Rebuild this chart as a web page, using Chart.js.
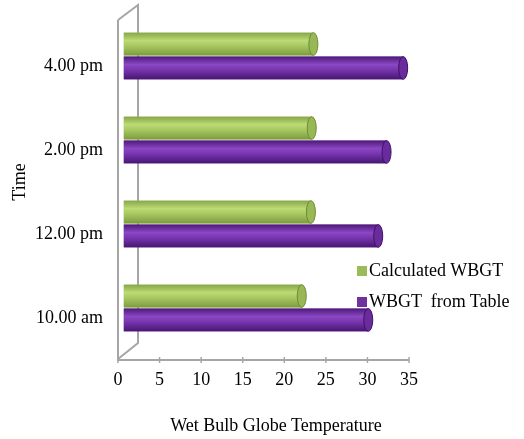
<!DOCTYPE html>
<html>
<head>
<meta charset="utf-8">
<script src="https://cdn.jsdelivr.net/npm/chart.js@4.4.1/dist/chart.umd.min.js"></script>
<style>
  html, body { margin: 0; padding: 0; background: #fff; }
  #wrap { position: relative; width: 524px; height: 439px; }
  #legend { position: absolute; left: 357px; top: 255px; font: 18px "Liberation Serif", serif; color: #000; }
  .item { display: flex; align-items: center; height: 31px; white-space: pre; }
  .box { width: 10px; height: 10px; margin-right: 2px; }
  #xTitle { position: absolute; left: 126px; width: 300px; top: 413px; text-align: center; white-space: nowrap;
            font: 18px "Liberation Serif", serif; line-height: 24px; color: #000; }
</style>
</head>
<body>
<div id="wrap">
  <canvas id="wbgtChart" width="524" height="439"></canvas>
  <div id="legend"></div>
  <div id="xTitle"></div>
</div>
<script>
// Data
const categories = ['10.00 am', '12.00 pm', '2.00 pm', '4.00 pm'];
const calculatedWbgt = [22.1, 23.2, 23.3, 23.5];
const tableWbgt = [30.1, 31.3, 32.3, 34.3];
const seriesNames = ['Calculated WBGT', 'WBGT  from Table'];
const xTitle = 'Wet Bulb Globe Temperature';
const yTitle = 'Time';
const xMin = 0, xMax = 35, xStep = 5;

// Colours
const GREEN = '#9bbb59';
const PURPLE = '#7030a0';
const FRAME = '#a6a6a6';
const FONT = '"Liberation Serif", "Times New Roman", serif';

const shades = {
    [GREEN]: { edge: '#86a648', light: '#bcdb74', mid: '#a6c661', dark: '#7c9b3e', cap: '#98b855', rim: '#6f8c35' },
    [PURPLE]: { edge: '#4d1a78', light: '#8b47c4', mid: '#7634ad', dark: '#471770', cap: '#6a2b9c', rim: '#3f1266' }
};

// draws the grey 3D box behind the bars
const backFrame = {
    id: 'backFrame',
    beforeDatasetsDraw(chart) {
        const { ctx, chartArea: a } = chart;
        ctx.save();
        ctx.strokeStyle = FRAME;
        ctx.lineWidth = 2;
        ctx.beginPath();
        ctx.moveTo(a.left, a.top + 6);
        ctx.lineTo(a.left + 20, a.top - 9);
        ctx.lineTo(a.left + 20, a.bottom - 7);
        ctx.lineTo(a.left, a.bottom + 9);
        ctx.stroke();
        ctx.restore();
    },
    afterDatasetsDraw(chart) {
        const { ctx, chartArea: a, scales } = chart;
        ctx.save();
        ctx.strokeStyle = FRAME;
        ctx.lineWidth = 2;
        ctx.beginPath();
        ctx.moveTo(a.left, a.top + 6);
        ctx.lineTo(a.left, a.bottom + 10);
        ctx.lineTo(a.right, a.bottom + 10);
        ctx.stroke();
        // tick marks on the floor edge
        ctx.lineWidth = 1.5;
        scales.x.ticks.forEach(t => {
            const px = scales.x.getPixelForValue(t.value);
            ctx.beginPath();
            ctx.moveTo(px, a.bottom + 7);
            ctx.lineTo(px, a.bottom + 13);
            ctx.stroke();
        });
        ctx.restore();
    }
};

// cylinder shading over each bar
const cylinders = {
    id: 'cylinders',
    afterDatasetDraw(chart, args) {
        const { ctx } = chart;
        const meta = args.meta;
        const s = shades[chart.data.datasets[args.index].backgroundColor];
        ctx.save();
        meta.data.forEach(el => {
            const { x, y, base, height } = el.getProps(['x', 'y', 'base', 'height'], true);
            const top = y - height / 2;
            const g = ctx.createLinearGradient(0, top, 0, top + height);
            g.addColorStop(0, s.edge);
            g.addColorStop(0.35, s.light);
            g.addColorStop(0.6, s.mid);
            g.addColorStop(1, s.dark);
            ctx.fillStyle = g;
            ctx.fillRect(base, top, x - base, height);
            ctx.beginPath();
            ctx.ellipse(x, y, 4.5, height / 2, 0, 0, Math.PI * 2);
            ctx.fillStyle = s.cap;
            ctx.fill();
            ctx.strokeStyle = s.rim;
            ctx.lineWidth = 1;
            ctx.stroke();
        });
        ctx.restore();
    }
};

const ctx = document.getElementById('wbgtChart').getContext('2d');
const chart = new Chart(ctx, {
    type: 'bar',
    data: {
        labels: categories,
        datasets: [
            { label: seriesNames[0], data: calculatedWbgt, backgroundColor: GREEN },
            { label: seriesNames[1], data: tableWbgt, backgroundColor: PURPLE }
        ]
    },
    options: {
        indexAxis: 'y',
        responsive: false,
        animation: false,
        devicePixelRatio: 1,
        base: 0.7,
        categoryPercentage: 0.57,
        barPercentage: 0.95,
        layout: { padding: { left: 0, right: 115, top: 14, bottom: 0 } },
        plugins: {
            legend: { display: false },
            tooltip: { enabled: false }
        },
        scales: {
            x: {
                min: xMin,
                max: xMax,
                ticks: { stepSize: xStep, color: '#000', padding: 19, font: { family: FONT, size: 18 } },
                grid: { display: false, drawTicks: false },
                border: { display: false },
                afterFit(scale) { scale.height = 89; }
            },
            y: {
                reverse: true,
                ticks: { color: '#000', padding: 15, labelOffset: 10, font: { family: FONT, size: 18 } },
                grid: { display: false, drawTicks: false },
                border: { display: false },
                title: {
                    display: true,
                    text: yTitle,
                    color: '#000',
                    font: { family: FONT, size: 18 },
                    padding: { top: 9, bottom: 0 }
                },
                afterFit(scale) {
                    scale.width = 118;
                    scale.paddingTop = 0;
                    scale.paddingBottom = 0;
                }
            }
        }
    },
    plugins: [backFrame, cylinders]
});

// axis title and legend placed like the original
document.getElementById('xTitle').textContent = xTitle;
const legendEl = document.getElementById('legend');
chart.data.datasets.forEach(ds => {
    const item = document.createElement('div');
    item.className = 'item';
    const box = document.createElement('span');
    box.className = 'box';
    box.style.background = ds.backgroundColor;
    const txt = document.createElement('span');
    txt.textContent = ds.label;
    item.appendChild(box);
    item.appendChild(txt);
    legendEl.appendChild(item);
});
</script>
</body>
</html>
